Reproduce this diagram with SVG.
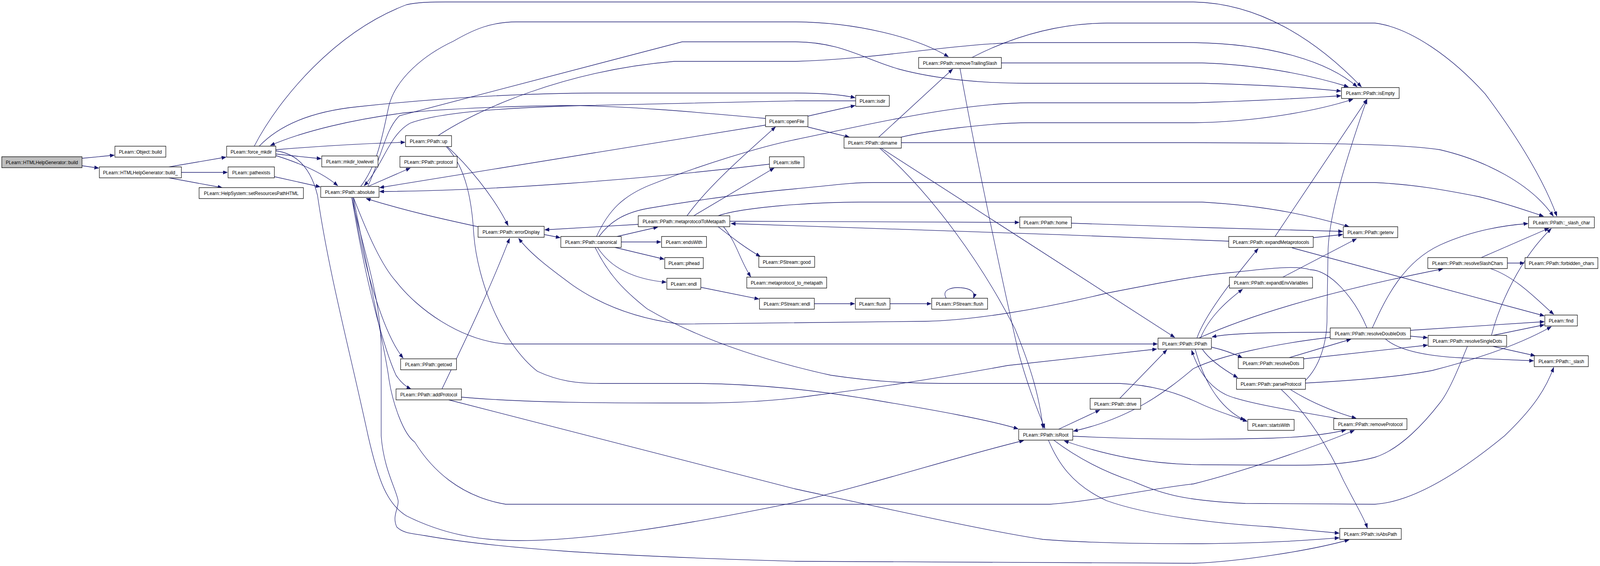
<svg xmlns="http://www.w3.org/2000/svg" width="4525" height="1448" viewBox="0 0 4525 1448">
<style>
.node rect{fill:#ffffff;stroke:#000000;stroke-width:1.3}
.node rect.root{fill:#bfbfbf}
.node text{font-family:"Liberation Sans",Arial,Helvetica,sans-serif;font-size:13px;fill:#000000;text-anchor:middle}
#edges path{fill:none;stroke:#191970;stroke-width:1.3;marker-end:url(#arr)}
</style>
<defs>
<marker id="arr" markerWidth="13" markerHeight="10" refX="12" refY="4.5" orient="auto" markerUnits="userSpaceOnUse">
<path d="M0,0 L12,4.5 L0,9 z" fill="#191970" stroke="#191970" stroke-width="1"/>
</marker>
</defs>
<rect width="4525" height="1448" fill="#ffffff"/>
<g id="diagram" transform="scale(0.90519 1)">
<g id="edges">
<path d="M232,405 L323,397"/>
<path d="M232,424 L279,430"/>
<path d="M478,427 L639,402"/>
<path d="M513,441 L643,441"/>
<path d="M478,455 L628,480"/>
<path d="M780,394 L908,406"/>
<path d="M780,398 C840,415 910,440 955,475"/>
<path d="M776,452 L905,478"/>
<path d="M780,383 C900,374 1030,367 1145,364"/>
<path d="M733,374 C790,320 880,285 1012,273 C1200,255 1450,238 1700,238 L2250,238 C2330,238 2380,242 2418,250"/>
<path d="M2165,303 C1950,285 1750,270 1600,270 C1400,272 1250,280 1150,288 C1000,305 860,335 765,372"/>
<path d="M2420,258 L2250,258 C2000,262 1800,268 1650,270 C1450,275 1250,285 1160,315 C1100,345 1085,420 1030,475"/>
<path d="M1020,477 C1070,420 1085,330 1100,270 C1120,200 1200,140 1283,105 C1340,75 1390,56 1460,56 L2250,56 C2420,57 2590,95 2682,145"/>
<path d="M1040,477 C1080,400 1090,330 1130,296 L1929,107 L2250,107 C2380,108 2440,150 2543,177 C2650,203 2780,213 2900,213 L3400,213 C3600,218 3700,225 3792,233"/>
<path d="M719,374 C790,250 950,80 1150,12 C1180,6 1210,5 1260,5 L3375,5 C3560,8 3720,100 3850,222"/>
<path d="M1239,347 C1350,280 1600,180 1907,157 L2250,157 C2500,150 2700,110 2900,109 L3375,109 C3600,112 3760,160 3838,222"/>
<path d="M1265,375 C1320,420 1395,500 1437,577"/>
<path d="M1262,375 C1320,430 1335,520 1340,600 C1350,720 1420,880 1520,950 C1580,975 1630,981 1700,981 L1980,981 C2150,983 2300,998 2450,1020 C2650,1050 2800,1075 2879,1097"/>
<path d="M1041,477 L1160,430"/>
<path d="M2165,320 L1074,480"/>
<path d="M2176,420 C1800,460 1400,488 1074,490"/>
<path d="M2285,297 L2418,270"/>
<path d="M2285,325 L2402,351"/>
<path d="M2485,351 L2694,177"/>
<path d="M2832,161 L3400,161 C3550,165 3700,190 3813,222"/>
<path d="M2749,147 C2850,100 2980,60 3130,59 L3888,59 C3990,70 4110,150 4200,240 C4300,360 4370,470 4403,553"/>
<path d="M2548,351 C2620,335 2800,314 2910,314 L3375,314 C3550,312 3720,285 3826,254"/>
<path d="M2549,365 L3375,365 C3700,366 3962,367 4072,383 C4200,410 4330,470 4393,553"/>
<path d="M2488,379 C2640,500 2780,680 2870,840 C2920,950 2940,1020 2950,1096"/>
<path d="M2715,175 C2760,400 2830,700 2880,900 C2910,1000 2940,1060 2955,1096"/>
<path d="M2492,379 L3322,863"/>
<path d="M1352,580 C1250,560 1150,540 1036,508"/>
<path d="M998,506 C1030,700 1090,860 1140,916"/>
<path d="M1000,506 C1040,600 1080,680 1120,720 C1180,790 1300,870 1430,880 L3273,880"/>
<path d="M995,506 C1040,750 1090,900 1120,960 C1135,980 1150,990 1162,995"/>
<path d="M1000,506 C1040,700 1090,900 1100,970 C1110,1030 1140,1110 1173,1131 C1220,1200 1300,1270 1430,1290 L2969,1290 C3100,1282 3250,1250 3375,1238 C3500,1210 3700,1150 3830,1101"/>
<path d="M995,506 C1030,650 1078,760 1078,900 L1078,1115 C1085,1200 1120,1250 1126,1281 C1128,1300 1108,1320 1122,1348 C1140,1365 1170,1365 1200,1370 C1400,1402 1700,1422 2250,1436 L3375,1441 C3500,1437 3700,1410 3815,1381"/>
<path d="M780,386 C843,393 880,433 898,500 C930,700 990,900 1041,1115 C1070,1230 1095,1290 1150,1320 C1250,1365 1350,1383 1467,1383 C1650,1383 1900,1350 2250,1285 C2500,1230 2700,1170 2895,1127"/>
<path d="M1687,605 C1720,540 1760,500 1848,470 C1980,423 2150,375 2250,357 C2400,330 2700,263 2910,263 L3375,263 C3600,257 3700,250 3792,245"/>
<path d="M1694,605 C1723,570 1760,545 1833,533 C1950,515 2100,495 2250,483 C2350,475 2400,467 2470,467 L3888,467 C4000,472 4080,485 4182,503 C4260,520 4320,540 4365,553"/>
<path d="M1943,552 C2000,480 2100,400 2193,325"/>
<path d="M1962,552 L2189,430"/>
<path d="M2031,552 C2100,530 2300,517 2433,517 L3400,517 C3595,527 3720,555 3815,580"/>
<path d="M2064,566 L2882,569"/>
<path d="M3475,617 C3000,600 2400,580 2068,572"/>
<path d="M2031,580 C2060,600 2100,630 2150,656"/>
<path d="M2046,580 C2083,620 2090,660 2123,708"/>
<path d="M1805,574 L1541,588"/>
<path d="M1539,600 L1584,608"/>
<path d="M1745,605 L1860,581"/>
<path d="M1757,619 L1869,619"/>
<path d="M1739,633 L1878,663"/>
<path d="M1690,633 C1730,690 1800,715 1884,722"/>
<path d="M1683,633 C1720,700 1760,740 1830,790 C2000,880 2200,930 2350,960 C2500,980 2600,981 2700,981 L3167,981 C3250,985 3320,1000 3400,1035 C3450,1055 3490,1065 3527,1078"/>
<path d="M1982,735 L2146,765"/>
<path d="M2303,777 L2417,777"/>
<path d="M2517,777 L2633,777"/>
<path d="M2676,763 C2660,738 2700,735 2715,736 C2740,737 2760,745 2753,763"/>
<path d="M3030,571 L3400,582 C3600,588 3700,590 3797,592"/>
<path d="M3714,608 L3797,600"/>
<path d="M3628,709 L3836,611"/>
<path d="M3606,605 L3866,254"/>
<path d="M3654,634 L4367,808"/>
<path d="M4189,659 L4380,584"/>
<path d="M4263,673 L4311,673"/>
<path d="M4215,687 C4290,710 4350,770 4394,804"/>
<path d="M3881,839 C3920,760 3970,670 4072,627 C4150,595 4230,578 4321,572"/>
<path d="M3762,850 C3600,850 3480,852 3428,862"/>
<path d="M3866,839 C3830,760 3760,690 3705,690 C3660,677 3560,690 3485,697 C3400,703 3300,720 3130,750 C2950,790 2750,820 2617,822 L1921,829 C1800,815 1700,780 1620,730 C1560,690 1500,650 1467,610"/>
<path d="M3989,845 L4367,823"/>
<path d="M3989,860 L4037,864"/>
<path d="M3918,867 C3960,900 4050,915 4182,917 C4250,920 4300,922 4337,923"/>
<path d="M3762,863 C3600,880 3450,910 3375,943 C3300,1000 3200,1070 3036,1103"/>
<path d="M3646,915 L3820,868"/>
<path d="M3687,918 L4037,883"/>
<path d="M4222,858 L4367,831"/>
<path d="M4222,886 L4341,910"/>
<path d="M4218,858 C4240,780 4300,660 4387,585"/>
<path d="M4150,886 C4130,930 4100,1000 4072,1031 C4030,1080 3960,1150 3888,1170 C3800,1191 3700,1191 3600,1190 L3400,1189 C3250,1188 3130,1165 3010,1128"/>
<path d="M2994,1098 L3110,1049"/>
<path d="M3034,1116 C3200,1123 3400,1126 3595,1121 C3700,1118 3760,1110 3806,1100"/>
<path d="M2965,1126 C2990,1180 3030,1240 3130,1281 C3250,1320 3450,1340 3595,1348 C3680,1355 3740,1360 3787,1364"/>
<path d="M2980,1126 C3030,1160 3100,1200 3203,1231 C3280,1260 3330,1280 3522,1288 L3888,1290 C3980,1285 4100,1230 4255,1115 C4330,1050 4370,1000 4394,940"/>
<path d="M3167,1019 L3300,895"/>
<path d="M3650,997 C3700,1025 3760,1050 3835,1070"/>
<path d="M3624,997 C3700,1060 3760,1150 3800,1230 C3840,1300 3860,1330 3867,1351"/>
<path d="M3692,980 C3800,975 3950,965 4050,948 C4150,925 4280,890 4387,836"/>
<path d="M3690,975 C3730,940 3755,880 3753,803 L3756,637 C3760,560 3790,450 3866,254"/>
<path d="M3400,893 C3420,920 3460,945 3500,966"/>
<path d="M3426,888 C3460,895 3490,905 3513,915"/>
<path d="M3380,893 C3400,960 3440,1040 3520,1075"/>
<path d="M3385,865 C3410,800 3500,700 3558,636"/>
<path d="M3395,865 C3420,810 3470,770 3514,740"/>
<path d="M3390,865 C3600,780 3900,720 4080,688"/>
<path d="M3785,1071 C3650,1050 3520,1030 3470,1011 C3420,990 3390,950 3370,896"/>
<path d="M1250,995 C1300,900 1380,753 1441,610"/>
<path d="M1305,1016 C1500,1031 1700,1031 1980,1031 C2100,1031 2200,1025 2300,1012 C2500,990 2700,960 2850,935 L3271,893"/>
<path d="M1269,1023 L2250,1251 C2500,1300 2800,1360 2950,1380 C3100,1391 3300,1391 3400,1391 C3600,1389 3700,1382 3787,1376"/>
</g>
<g id="n_build" class="node"><rect class="root" x="5" y="401" width="227" height="28"/><text x="118.5" y="420">PLearn::HTMLHelpGenerator::build</text></g>
<g id="n_objbuild" class="node"><rect x="325" y="374" width="144" height="28"/><text x="397" y="393">PLearn::Object::build</text></g>
<g id="n_build_" class="node"><rect x="281" y="427" width="232" height="28"/><text x="397" y="446">PLearn::HTMLHelpGenerator::build_</text></g>
<g id="n_force_mkdir" class="node"><rect x="641" y="374" width="139" height="28"/><text x="710.5" y="393">PLearn::force_mkdir</text></g>
<g id="n_pathexists" class="node"><rect x="645" y="427" width="131" height="28"/><text x="710.5" y="446">PLearn::pathexists</text></g>
<g id="n_setres" class="node"><rect x="563" y="480" width="295" height="28"/><text x="710.5" y="499">PLearn::HelpSystem::setResourcesPathHTML</text></g>
<g id="n_mkdir_lowlevel" class="node"><rect x="910" y="399" width="159" height="28"/><text x="989.5" y="418">PLearn::mkdir_lowlevel</text></g>
<g id="n_absolute" class="node"><rect x="907" y="477" width="165" height="28"/><text x="989.5" y="496">PLearn::PPath::absolute</text></g>
<g id="n_up" class="node"><rect x="1147" y="347" width="130" height="28"/><text x="1212" y="366">PLearn::PPath::up</text></g>
<g id="n_protocol" class="node"><rect x="1131" y="400" width="162" height="28"/><text x="1212" y="419">PLearn::PPath::protocol</text></g>
<g id="n_openFile" class="node"><rect x="2165" y="296" width="120" height="28"/><text x="2225" y="315">PLearn::openFile</text></g>
<g id="n_isfile" class="node"><rect x="2176" y="401" width="98" height="28"/><text x="2225" y="420">PLearn::isfile</text></g>
<g id="n_removeTrailingSlash" class="node"><rect x="2598" y="147" width="234" height="28"/><text x="2715" y="166">PLearn::PPath::removeTrailingSlash</text></g>
<g id="n_isdir" class="node"><rect x="2420" y="244" width="95" height="28"/><text x="2467.5" y="263">PLearn::isdir</text></g>
<g id="n_dirname" class="node"><rect x="2387" y="351" width="162" height="28"/><text x="2468" y="370">PLearn::PPath::dirname</text></g>
<g id="n_isEmpty" class="node"><rect x="3794" y="224" width="163" height="28"/><text x="3875.5" y="243">PLearn::PPath::isEmpty</text></g>
<g id="n_errorDisplay" class="node"><rect x="1352" y="579" width="187" height="28"/><text x="1445.5" y="598">PLearn::PPath::errorDisplay</text></g>
<g id="n_canonical" class="node"><rect x="1586" y="605" width="171" height="28"/><text x="1671.5" y="624">PLearn::PPath::canonical</text></g>
<g id="n_metaprotocolToMetapath" class="node"><rect x="1805" y="552" width="259" height="28"/><text x="1934.5" y="571">PLearn::PPath::metaprotocolToMetapath</text></g>
<g id="n_endsWith" class="node"><rect x="1871" y="605" width="127" height="28"/><text x="1934.5" y="624">PLearn::endsWith</text></g>
<g id="n_plhead" class="node"><rect x="1880" y="659" width="109" height="28"/><text x="1934.5" y="678">PLearn::plhead</text></g>
<g id="n_endl" class="node"><rect x="1886" y="712" width="96" height="28"/><text x="1934" y="731">PLearn::endl</text></g>
<g id="n_good" class="node"><rect x="2146" y="656" width="158" height="28"/><text x="2225" y="675">PLearn::PStream::good</text></g>
<g id="n_mp_to_mp" class="node"><rect x="2112" y="709" width="226" height="28"/><text x="2225" y="728">PLearn::metaprotocol_to_metapath</text></g>
<g id="n_pstream_endl" class="node"><rect x="2148" y="763" width="155" height="28"/><text x="2225.5" y="782">PLearn::PStream::endl</text></g>
<g id="n_getcwd" class="node"><rect x="1133" y="918" width="158" height="28"/><text x="1212" y="937">PLearn::PPath::getcwd</text></g>
<g id="n_home" class="node"><rect x="2884" y="555" width="146" height="28"/><text x="2957" y="574">PLearn::PPath::home</text></g>
<g id="n_flush" class="node"><rect x="2419" y="763" width="98" height="28"/><text x="2468" y="782">PLearn::flush</text></g>
<g id="n_pstream_flush" class="node"><rect x="2635" y="763" width="158" height="28"/><text x="2714" y="782">PLearn::PStream::flush</text></g>
<g id="n_PPath" class="node"><rect x="3275" y="865" width="151" height="28"/><text x="3350.5" y="884">PLearn::PPath::PPath</text></g>
<g id="n_getenv" class="node"><rect x="3799" y="580" width="154" height="28"/><text x="3876" y="599">PLearn::PPath::getenv</text></g>
<g id="n_expandMetaprotocols" class="node"><rect x="3475" y="605" width="239" height="28"/><text x="3594.5" y="624">PLearn::PPath::expandMetaprotocols</text></g>
<g id="n_expandEnvVariables" class="node"><rect x="3477" y="709" width="235" height="28"/><text x="3594.5" y="728">PLearn::PPath::expandEnvVariables</text></g>
<g id="n_slash_char" class="node"><rect x="4323" y="555" width="186" height="28"/><text x="4416" y="574">PLearn::PPath::_slash_char</text></g>
<g id="n_resolveSlashChars" class="node"><rect x="4038" y="659" width="225" height="28"/><text x="4150.5" y="678">PLearn::PPath::resolveSlashChars</text></g>
<g id="n_forbidden_chars" class="node"><rect x="4313" y="659" width="206" height="28"/><text x="4416" y="678">PLearn::PPath::forbidden_chars</text></g>
<g id="n_find" class="node"><rect x="4369" y="806" width="92" height="28"/><text x="4415" y="825">PLearn::find</text></g>
<g id="n_resolveDoubleDots" class="node"><rect x="3762" y="839" width="227" height="28"/><text x="3875.5" y="858">PLearn::PPath::resolveDoubleDots</text></g>
<g id="n_resolveSingleDots" class="node"><rect x="4039" y="858" width="222" height="28"/><text x="4150" y="877">PLearn::PPath::resolveSingleDots</text></g>
<g id="n_slash" class="node"><rect x="4339" y="910" width="153" height="28"/><text x="4415.5" y="929">PLearn::PPath::_slash</text></g>
<g id="n_resolveDots" class="node"><rect x="3502" y="915" width="185" height="28"/><text x="3594.5" y="934">PLearn::PPath::resolveDots</text></g>
<g id="n_parseProtocol" class="node"><rect x="3497" y="968" width="195" height="28"/><text x="3594.5" y="987">PLearn::PPath::parseProtocol</text></g>
<g id="n_addProtocol" class="node"><rect x="1120" y="995" width="185" height="28"/><text x="1212.5" y="1014">PLearn::PPath::addProtocol</text></g>
<g id="n_isRoot" class="node"><rect x="2881" y="1098" width="153" height="28"/><text x="2957.5" y="1117">PLearn::PPath::isRoot</text></g>
<g id="n_drive" class="node"><rect x="3083" y="1019" width="143" height="28"/><text x="3154.5" y="1038">PLearn::PPath::drive</text></g>
<g id="n_startsWith" class="node"><rect x="3529" y="1073" width="131" height="28"/><text x="3594.5" y="1092">PLearn::startsWith</text></g>
<g id="n_removeProtocol" class="node"><rect x="3772" y="1071" width="207" height="28"/><text x="3875.5" y="1090">PLearn::PPath::removeProtocol</text></g>
<g id="n_isAbsPath" class="node"><rect x="3789" y="1352" width="174" height="28"/><text x="3876" y="1371">PLearn::PPath::isAbsPath</text></g>
</g>
</svg>
